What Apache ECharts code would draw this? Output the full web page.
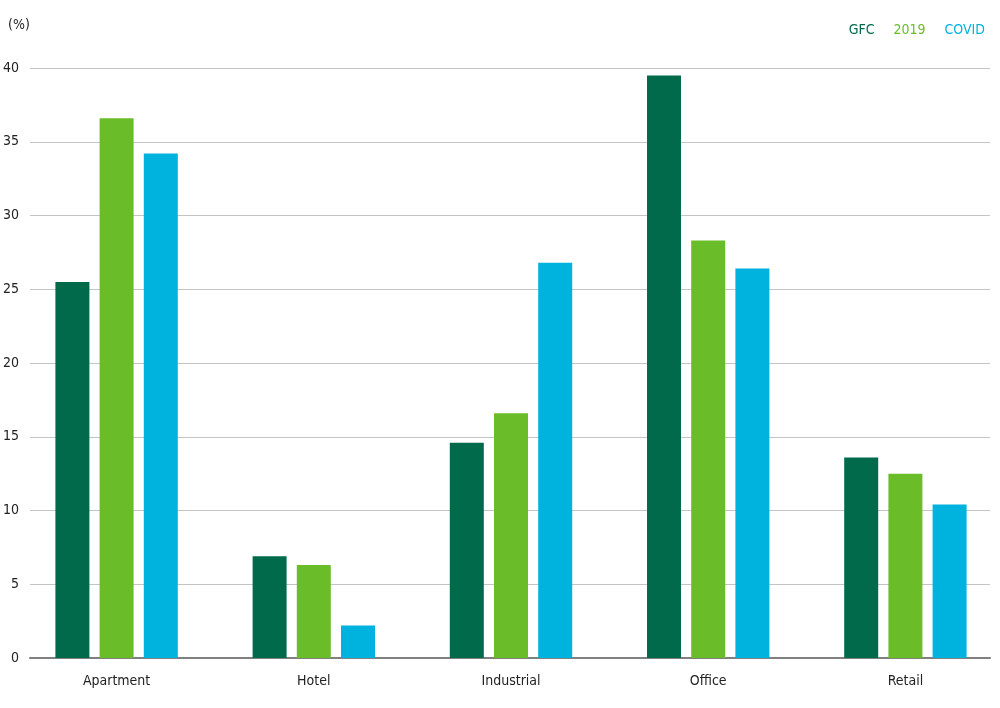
<!DOCTYPE html>
<html>
<head>
<meta charset="utf-8">
<script src="https://cdn.jsdelivr.net/npm/echarts@6/dist/echarts.min.js"></script>
<style>
  html, body { margin: 0; padding: 0; background: #fff; overflow: hidden; }
  /* a few px wider than the window so the last category group has room */
  #chart { width: 1010px; height: 708px; }
</style>
</head>
<body>
<div id="chart"></div>
<script>
// data
const categories = ['Apartment', 'Hotel', 'Industrial', 'Office', 'Retail'];
const gfc = [25.5, 6.9, 14.6, 39.5, 13.6];
const y2019 = [36.6, 6.3, 16.6, 28.3, 12.5];
const covid = [34.2, 2.2, 26.8, 26.4, 10.4];
const seriesNames = ['GFC', '2019', 'COVID'];
const colors = ['#006a4a', '#6abd28', '#00b2de'];

const FONT = '"DejaVu Sans Condensed", "Liberation Sans Narrow", "Roboto", sans-serif';

const chart = echarts.init(document.getElementById('chart'));

const option = {
  animation: false,
  textStyle: { fontFamily: FONT },
  legend: {
    right: 20,
    top: 18,
    itemWidth: 0,
    itemHeight: 0,
    itemGap: 14,
    icon: 'rect',
    data: seriesNames.map((n, i) => ({ name: n, textStyle: { color: colors[i] } })),
    textStyle: { fontSize: 14, fontFamily: FONT, padding: 0 }
  },
  graphic: [{
    type: 'text',
    left: 8,
    top: 18,
    style: { text: '(%)', fontSize: 14, fontFamily: FONT, fill: '#222' }
  }],
  grid: [
    // value scale, gridlines and base line
    { left: 30, right: 20, top: 68, bottom: 50 },
    // bars and category labels
    { left: 18, width: 986, top: 68, bottom: 50 }
  ],
  xAxis: [
    {
      gridIndex: 0,
      type: 'category',
      data: categories,
      axisLine: { show: true, lineStyle: { color: '#808080', width: 2 } },
      axisTick: { show: false },
      axisLabel: { show: false },
      splitLine: { show: false }
    },
    {
      gridIndex: 1,
      type: 'category',
      data: categories,
      axisLine: { show: false },
      axisTick: { show: false },
      axisLabel: { color: '#222', fontSize: 14, margin: 16, fontFamily: FONT }
    }
  ],
  yAxis: [
    {
      gridIndex: 0,
      type: 'value',
      min: 0,
      max: 40,
      interval: 5,
      axisLine: { show: false },
      axisTick: { show: false },
      axisLabel: { color: '#222', fontSize: 14, margin: 11, fontFamily: FONT },
      splitLine: { lineStyle: { color: '#c4c4c4', width: 1 } }
    },
    {
      gridIndex: 1,
      type: 'value',
      min: 0,
      max: 40,
      show: false,
      splitLine: { show: false }
    }
  ],
  series: [gfc, y2019, covid].map((vals, i) => ({
    name: seriesNames[i],
    type: 'bar',
    xAxisIndex: 1,
    yAxisIndex: 1,
    data: vals,
    barWidth: 34,
    barGap: '30%',
    itemStyle: { color: colors[i] }
  }))
};

chart.setOption(option);
</script>
</body>
</html>
